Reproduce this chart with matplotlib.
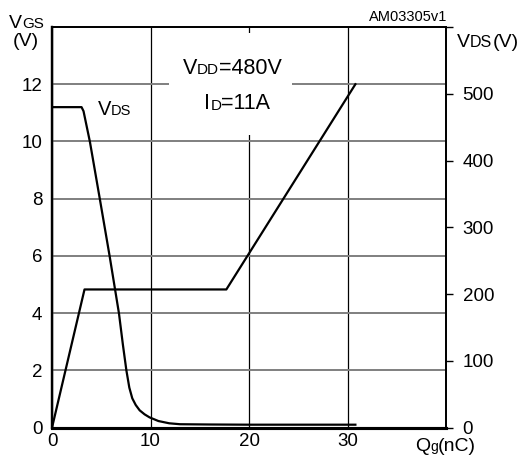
import matplotlib
matplotlib.use("Agg")
import matplotlib.pyplot as plt
from matplotlib.patches import Rectangle

plt.rcParams['font.family'] = ['Liberation Sans', 'DejaVu Sans']

# ---- data ----
qg_vgs = [0, 3.3, 17.7, 30.8]
vgs = [0, 4.83, 4.83, 12.0]

qg_vds = [0, 3.0, 3.2, 3.85, 4.85, 5.85, 6.8, 7.2, 7.55, 7.85, 8.15, 8.5, 8.9, 9.4, 9.9, 10.8, 11.9, 13.0, 16.0, 20.0, 25.0, 30.8]
vds = [480, 480, 474, 428, 343, 257, 171, 124, 86, 60, 44, 34, 26, 20, 15.5, 10, 6.6, 5.2, 4.8, 4.5, 4.5, 4.5]

x_ticks = [0, 10, 20, 30]
vgs_ticks = [0, 2, 4, 6, 8, 10, 12]
vds_ticks = [0, 100, 200, 300, 400, 500, 600]
vds_tick_labels = ['0', '100', '200', '300', '400', '500', '']

W, H = 519, 458
fig = plt.figure(figsize=(W / 100, H / 100), dpi=100)
L, R, T, B = 52, 446, 27, 427.7
ax = fig.add_axes([L / W, 1 - B / H, (R - L) / W, (B - T) / H])
ax2 = ax.twinx()

ax.set_xlim(0, 40)
ax.set_ylim(0, 14)
ax2.set_ylim(0, 600)

ax.set_xticks(x_ticks)
ax.set_yticks(vgs_ticks)
ax2.set_yticks(vds_ticks)
ax2.set_yticklabels(vds_tick_labels)

ax.tick_params(axis='both', length=0, labelsize=13.5, pad=4)
ax.tick_params(axis='y', pad=7)
ax2.tick_params(axis='y', length=5, width=1, direction='out', labelsize=13.5, pad=7)

ax.set_axisbelow(True)
ax.yaxis.grid(True, color='#7f7f7f', lw=1.4)
ax.xaxis.grid(True, color='black', lw=0.9)

for a in (ax, ax2):
    for s in a.spines.values():
        s.set_color('black')
        s.set_linewidth(1.3)
    a.spines['bottom'].set_linewidth(2.2)
    a.spines['left'].set_linewidth(1.6)

# white box behind annotation
ax.add_patch(Rectangle((11.9, 10.22), 12.5, 3.56, facecolor='white', edgecolor='none', zorder=1))

ax.plot(qg_vgs, vgs, color='black', lw=1.6, zorder=3)
ax2.plot(qg_vds, vds, color='black', lw=1.6, zorder=3)

D = 0.21


def rich(x, y, parts, ax_, coords='data'):
    prev = None
    prev_size = None
    for txt, size in parts:
        if prev is None:
            t = ax_.annotate(txt, xy=(x, y), xycoords=coords, va='baseline', ha='left',
                             fontsize=size, zorder=5, annotation_clip=False)
        else:
            t = ax_.annotate(txt, xy=(1, 0), xycoords=prev, xytext=(0, D * (prev_size - size)),
                             textcoords='offset points', va='bottom', ha='left',
                             fontsize=size, zorder=5, annotation_clip=False)
        prev = t
        prev_size = size


def fx(px):
    return px / W


def fy(py):
    return 1 - py / H


# annotations in data coords (axes)
rich(13.28, 12.37, [('V', 15.5), ('DD', 11), ('=480V', 15.5)], ax)
rich(15.47, 11.12, [('I', 15.5), ('D', 11), ('=11A', 15.5)], ax)
rich(4.65, 10.92, [('V', 14.5), ('DS', 10.5)], ax)

# axis labels in figure coords
rich(fx(9.3), fy(28.3), [('V', 14), ('GS', 11)], ax2, coords='figure fraction')
ax2.annotate('(V)', xy=(fx(12.5), fy(45.5)), xycoords='figure fraction', fontsize=14,
             va='baseline', ha='left', annotation_clip=False)
rich(fx(457), fy(47), [('V', 14), ('DS', 11.5), ('(V)', 14)], ax2, coords='figure fraction')
rich(fx(415), fy(451), [('Q', 14), ('g', 10), ('(nC)', 14)], ax2, coords='figure fraction')
ax2.annotate('AM03305v1', xy=(fx(447.5), fy(20.7)), xycoords='figure fraction', fontsize=10.5,
             va='baseline', ha='right', annotation_clip=False)

fig.savefig('out.png', dpi=100)
